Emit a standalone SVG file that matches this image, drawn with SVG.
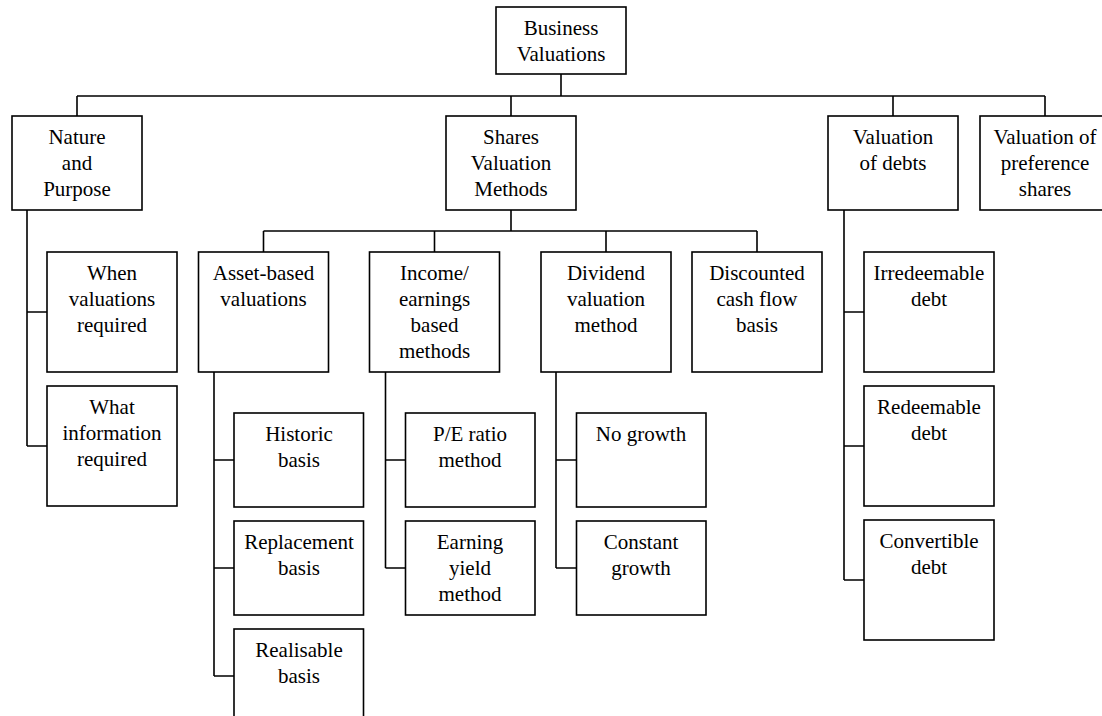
<svg xmlns="http://www.w3.org/2000/svg" width="1102" height="716" viewBox="0 0 1102 716">
<style>
.box{fill:#fff;stroke:#000;stroke-width:1.6}
.ln{fill:none;stroke:#000;stroke-width:1.6}
.t text{font-size:21px;fill:#000;text-anchor:middle}
</style>
<rect width="1102" height="716" fill="#fff"/>
<g id="connectors" class="ln">
<path d="M561 74V96M77 96H1045M77 96V116M511 96V116M893 96V116M1045 96V116"/>
<path d="M511 210V231M263.5 231H757M263.5 231V252M434.5 231V252M606 231V252M757 231V252"/>
<path d="M27 210V446M27 312H47M27 446H47"/>
<path d="M214 372V676M214 460H234M214 568H234M214 676H234"/>
<path d="M385.5 372V568M385.5 460H405.5M385.5 568H405.5"/>
<path d="M556 372V568M556 460H576.5M556 568H576.5"/>
<path d="M844 210V580M844 312H864M844 446H864M844 580H864"/>
</g>
<g class="t" font-family="Liberation Serif, Times New Roman, serif">
<g id="business"><rect class="box" x="496" y="7" width="130" height="67"/><text x="561" y="35">Business</text><text x="561" y="61">Valuations</text></g>
<g id="nature"><rect class="box" x="12" y="116" width="130" height="94"/><text x="77" y="144">Nature</text><text x="77" y="170">and</text><text x="77" y="196">Purpose</text></g>
<g id="shares"><rect class="box" x="446" y="116" width="130" height="94"/><text x="511" y="144">Shares</text><text x="511" y="170">Valuation</text><text x="511" y="196">Methods</text></g>
<g id="debts"><rect class="box" x="828" y="116" width="130" height="94"/><text x="893" y="144">Valuation</text><text x="893" y="170">of debts</text></g>
<g id="preference"><rect class="box" x="980" y="116" width="130" height="94"/><text x="1045" y="144">Valuation of</text><text x="1045" y="170">preference</text><text x="1045" y="196">shares</text></g>
<g id="when"><rect class="box" x="47" y="252" width="130" height="120"/><text x="112" y="280">When</text><text x="112" y="306">valuations</text><text x="112" y="332">required</text></g>
<g id="what"><rect class="box" x="47" y="386" width="130" height="120"/><text x="112" y="414">What</text><text x="112" y="440">information</text><text x="112" y="466">required</text></g>
<g id="asset"><rect class="box" x="198.5" y="252" width="130" height="120"/><text x="263.5" y="280">Asset-based</text><text x="263.5" y="306">valuations</text></g>
<g id="income"><rect class="box" x="369.5" y="252" width="130" height="120"/><text x="434.5" y="280">Income/</text><text x="434.5" y="306">earnings</text><text x="434.5" y="332">based</text><text x="434.5" y="358">methods</text></g>
<g id="dividend"><rect class="box" x="541" y="252" width="130" height="120"/><text x="606" y="280">Dividend</text><text x="606" y="306">valuation</text><text x="606" y="332">method</text></g>
<g id="dcf"><rect class="box" x="692" y="252" width="130" height="120"/><text x="757" y="280">Discounted</text><text x="757" y="306">cash flow</text><text x="757" y="332">basis</text></g>
<g id="irredeemable"><rect class="box" x="864" y="252" width="130" height="120"/><text x="929" y="280">Irredeemable</text><text x="929" y="306">debt</text></g>
<g id="redeemable"><rect class="box" x="864" y="386" width="130" height="120"/><text x="929" y="414">Redeemable</text><text x="929" y="440">debt</text></g>
<g id="convertible"><rect class="box" x="864" y="520" width="130" height="120"/><text x="929" y="548">Convertible</text><text x="929" y="574">debt</text></g>
<g id="historic"><rect class="box" x="234" y="413" width="129.5" height="94"/><text x="299" y="441">Historic</text><text x="299" y="467">basis</text></g>
<g id="replacement"><rect class="box" x="234" y="521" width="129.5" height="94"/><text x="299" y="549">Replacement</text><text x="299" y="575">basis</text></g>
<g id="realisable"><rect class="box" x="234" y="629" width="129.5" height="94"/><text x="299" y="657">Realisable</text><text x="299" y="683">basis</text></g>
<g id="pe"><rect class="box" x="405.5" y="413" width="129.5" height="94"/><text x="470" y="441">P/E ratio</text><text x="470" y="467">method</text></g>
<g id="earning"><rect class="box" x="405.5" y="521" width="129.5" height="94"/><text x="470" y="549">Earning</text><text x="470" y="575">yield</text><text x="470" y="601">method</text></g>
<g id="nogrowth"><rect class="box" x="576.5" y="413" width="129.5" height="94"/><text x="641" y="441">No growth</text></g>
<g id="constant"><rect class="box" x="576.5" y="521" width="129.5" height="94"/><text x="641" y="549">Constant</text><text x="641" y="575">growth</text></g>
</g>
</svg>
